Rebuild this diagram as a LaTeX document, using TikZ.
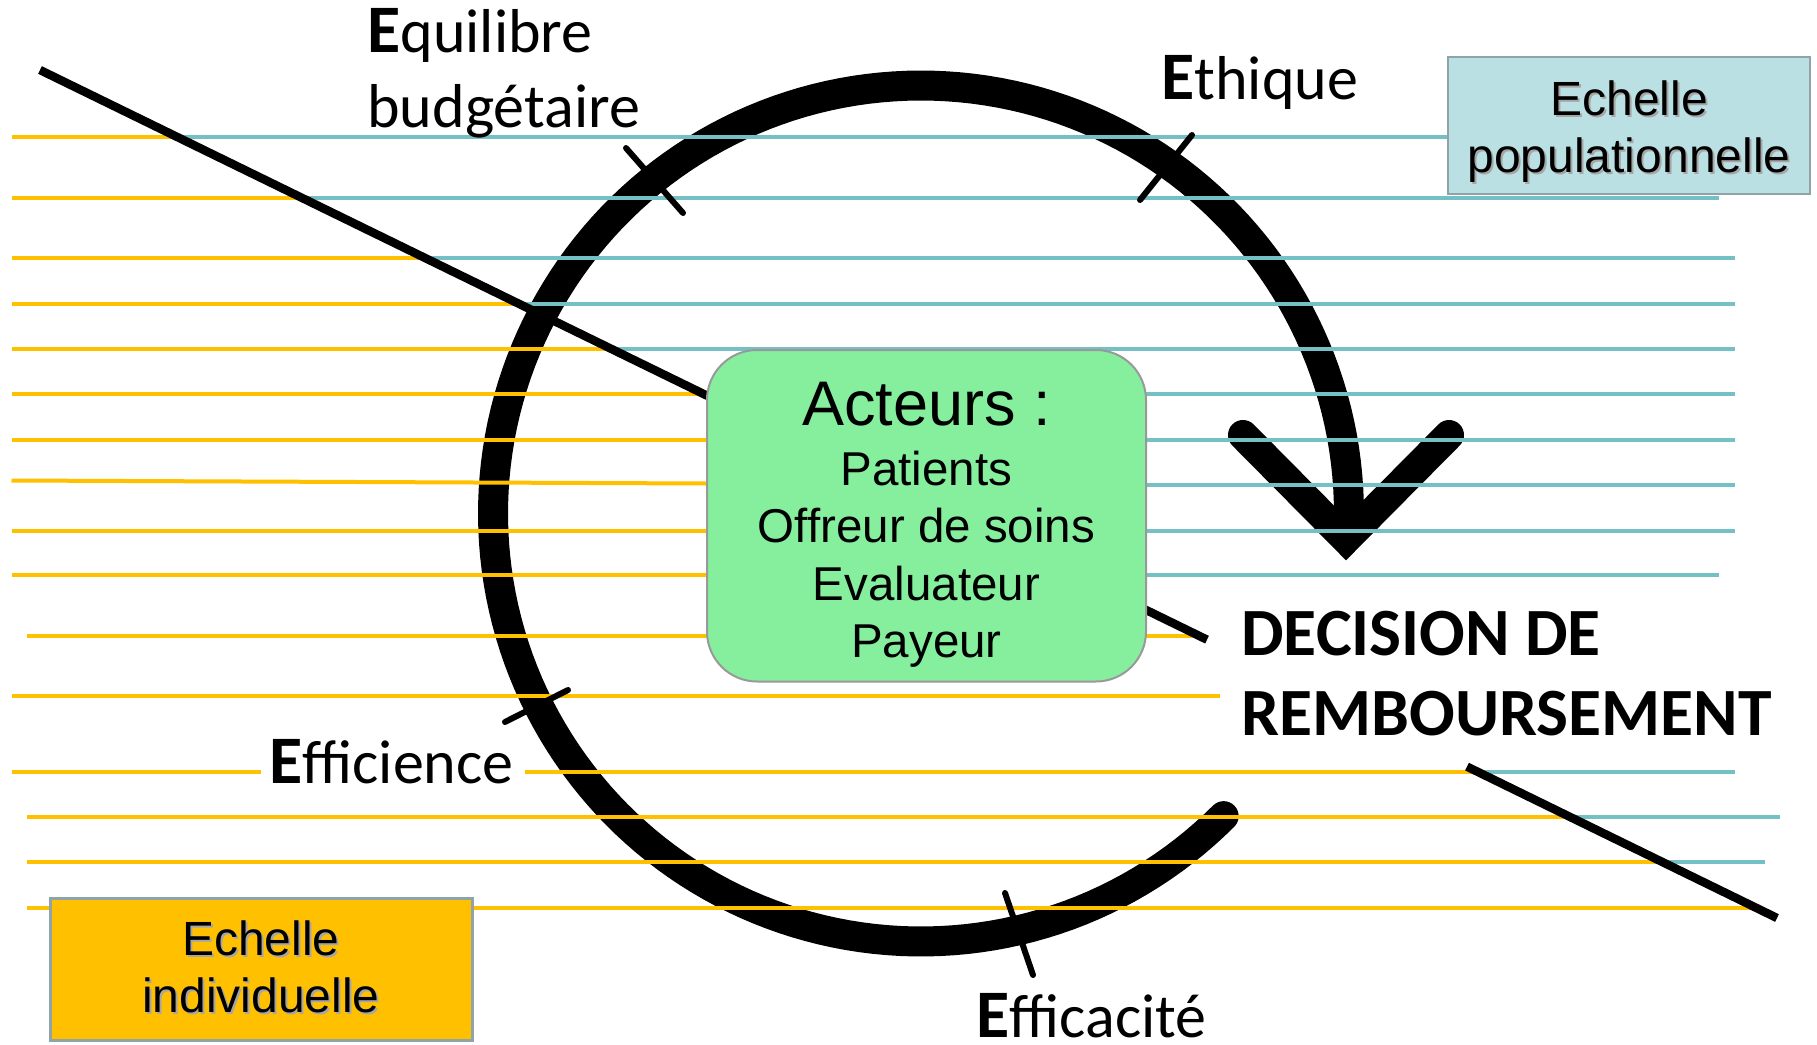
\documentclass[tikz,border=0pt]{standalone}
\usepackage{fontspec}
\setmainfont{Liberation Sans}
\newfontfamily\calib{Carlito}
\definecolor{jaune}{RGB}{255,192,0}
\definecolor{sarcelle}{RGB}{116,192,196}
\definecolor{bleuclair}{RGB}{186,224,228}
\definecolor{vertclair}{RGB}{133,239,158}
\definecolor{bordgris}{RGB}{143,164,168}
\newcommand\grandE{{\fontsize{34}{36}\selectfont\bfseries E}}
\begin{document}
\begin{tikzpicture}[x=0.5pt,y=-0.5pt,
  ylw/.style={draw=jaune,line width=2pt},
  tl/.style={draw=sarcelle,line width=2pt},
  diagline/.style={draw=black,line width=4.25pt},
  tickline/.style={draw=black,line width=3pt,line cap=round},
  ecal/.style={font=\calib\fontsize{31}{36}\selectfont,anchor=base west,inner sep=0pt},
  dcal/.style={font=\calib\bfseries\fontsize{33.8}{40}\selectfont,anchor=base west,inner sep=0pt},
  txtact/.style={font=\fontsize{31.5}{36}\selectfont,anchor=base,inner sep=0pt},
  txtlist/.style={font=\fontsize{23.75}{28}\selectfont,anchor=base,inner sep=0pt},
  txtech/.style={font=\fontsize{24}{28}\selectfont,anchor=base,inner sep=0pt},
  txtechsh/.style={txtech,text=black!35},
]
\useasboundingbox (0,0) rectangle (1817,1045);
\fill[white] (0,0) rectangle (1817,1045);

% big circular arrow
\draw[line width=15pt,line cap=round,line join=round]
  plot[domain=45:362,samples=180] ({921+428*cos(\x)},{513.5+428*sin(\x)});
\draw[line width=15pt,line cap=round,line join=miter]
  (1243,435) -- (1346,539) -- (1449,435);

% horizontal lines
\draw[ylw] (11.5,137) -- (177,137);   \draw[tl] (177,137) -- (1448,137);
\draw[ylw] (11.5,198) -- (302,198);   \draw[tl] (302,198) -- (1719,198);
\draw[ylw] (11.5,258) -- (425,258);   \draw[tl] (425,258) -- (1735,258);
\draw[ylw] (11.5,304) -- (519,304);   \draw[tl] (519,304) -- (1735,304);
\draw[ylw] (11.5,349) -- (611,349);   \draw[tl] (611,349) -- (1735,349);
\draw[ylw] (11.5,394) -- (707,394);   \draw[tl] (1146,394) -- (1735,394);
\draw[ylw] (11.5,440) -- (707,440);   \draw[tl] (1146,440) -- (1735,440);
\draw[ylw] (11.5,480.5) -- (707,483.5); \draw[tl] (1146,485) -- (1735,485);
\draw[ylw] (11.5,531) -- (707,531);   \draw[tl] (1146,531) -- (1735,531);
\draw[ylw] (11.5,575) -- (707,575);   \draw[tl] (1146,575) -- (1719,575);
\draw[ylw] (27,636) -- (707,636);     \draw[ylw] (1146,636) -- (1200,636);
\draw[ylw] (11.5,696) -- (1220,696);
\draw[ylw] (11.5,772) -- (261,772);   \draw[ylw] (525,772) -- (1478,772); \draw[tl] (1478,772) -- (1735,772);
\draw[ylw] (27,817) -- (1570,817);    \draw[tl] (1570,817) -- (1780,817);
\draw[ylw] (27,862) -- (1662,862);    \draw[tl] (1662,862) -- (1765,862);
\draw[ylw] (27,908) -- (1756,908);

% diagonal
\draw[diagline] (40,70) -- (1207,639.7);
\draw[diagline] (1467,766.6) -- (1777,918);

% ticks
\draw[tickline] (626,148) -- (683,213);
\draw[tickline] (1192,135) -- (1140,200);
\draw[tickline] (568,690) -- (505,722);
\draw[tickline] (1005,893) -- (1033,975);

% actors box
\node[draw=black!40,line width=1pt,fill=vertclair,rounded corners=25pt,
      minimum width=219.5pt,minimum height=165.75pt,inner sep=0pt] (acteurs) at (926.5,515.75) {};
\node[txtact] (act) at (926.5,425) {Acteurs :};
\node[txtlist] (pat) at (926.5,485) {Patients};
\node[txtlist] (off) at (926.5,542) {Offreur de soins};
\node[txtlist] (eva) at (926.5,600) {Evaluateur};
\node[txtlist] (pay) at (926.5,657) {Payeur};

% scale boxes
\node[draw=bordgris,line width=1.25pt,fill=bleuclair,minimum width=181pt,minimum height=68.5pt,inner sep=0pt] (pop) at (1629,125.5) {};
\node[txtechsh] at (1631,117) {Echelle};
\node[txtechsh] at (1631,174) {populationnelle};
\node[txtech] (pop1) at (1629,115) {Echelle};
\node[txtech] (pop2) at (1629,172) {populationnelle};

\node[draw=bordgris,line width=1.5pt,fill=jaune,minimum width=211pt,minimum height=71pt,inner sep=0pt] (ind) at (261,969) {};
\node[txtechsh] at (263,957) {Echelle};
\node[txtechsh] at (263,1014) {individuelle};
\node[txtech] (ind1) at (261,955) {Echelle};
\node[txtech] (ind2) at (261,1012) {individuelle};

% labels
\node[ecal] (equi) at (367,52) {\grandE quilibre};
\node[ecal] (budg) at (367,127) {budgétaire};
\node[ecal] (ethi) at (1161,99) {\grandE thique};
\node[ecal] (effi) at (269,783) {\grandE fficience};
\node[ecal] (effa) at (976,1037) {\grandE fficacité};
\node[dcal] (dec1) at (1241,655) {DECISION DE};
\node[dcal] (dec2) at (1241,735) {REMBOURSEMENT};
\end{tikzpicture}
\end{document}
